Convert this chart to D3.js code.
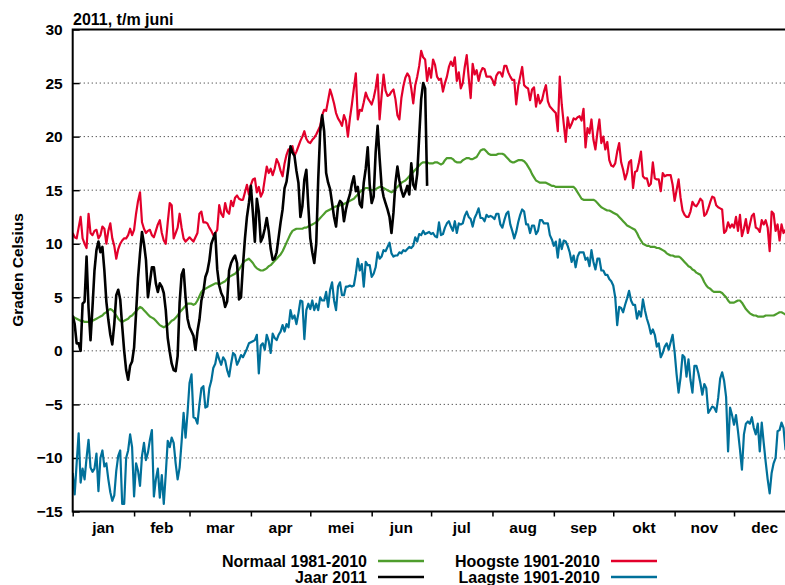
<!DOCTYPE html>
<html>
<head>
<meta charset="utf-8">
<script src="https://cdn.jsdelivr.net/npm/d3@7"></script>
<style>
    body { margin: 0; background: #fff; }
    svg { display: block; font-family: "Liberation Sans", Arial, Helvetica, sans-serif; font-weight: bold; }
</style>
</head>
<body>
<script>
    // Month labels and first day of each month (day index, 1 jan = 0)
    var months = ["jan", "feb", "mar", "apr", "mei", "jun", "jul", "aug", "sep", "okt", "nov", "dec"];
    var monthStarts = [0, 31, 59, 90, 120, 151, 181, 212, 243, 273, 304, 334, 365];
    var yTicks = [-15, -10, -5, 0, 5, 10, 15, 20, 25, 30];

    // Normaal 1981-2010, daily
    var normaal = [
        3.2,3.1,3.0,2.9,2.8,2.8,2.7,2.7,2.7,2.7,2.8,2.9,3.0,3.1,3.2,3.3,3.5,3.6,3.8,3.9,3.8,3.6,3.3,3.0,2.8,2.7,2.8,2.9,3.0,3.2,3.3,
        3.5,3.7,3.9,4.1,4.0,3.8,3.6,3.4,3.2,3.1,3.0,2.8,2.6,2.4,2.3,2.2,2.3,2.4,2.6,2.8,2.9,3.1,3.3,3.6,3.8,4.0,4.2,4.4,
        4.4,4.4,4.3,4.4,4.7,5.1,5.5,5.7,5.8,5.9,6.0,6.1,6.2,6.3,6.3,6.2,6.3,6.4,6.5,6.7,6.9,7.0,7.1,7.2,7.4,7.6,7.9,8.2,8.4,8.5,8.6,
        8.4,8.2,7.9,7.7,7.6,7.5,7.5,7.6,7.7,7.9,8.0,8.2,8.4,8.6,8.8,9.0,9.3,9.7,10.1,10.5,10.9,11.2,11.3,11.4,11.4,11.4,11.4,11.5,11.5,11.6,
        11.7,11.8,11.9,12.0,12.2,12.4,12.6,12.8,13.0,13.1,13.2,13.3,13.4,13.5,13.5,13.6,13.6,13.7,13.8,13.9,14.0,14.1,14.2,14.4,14.6,14.8,15.0,15.1,15.2,15.2,15.1,
        15.0,15.0,15.1,15.2,15.3,15.3,15.2,15.1,15.0,14.9,14.8,14.9,15.1,15.3,15.5,15.7,15.8,15.9,16.1,16.3,16.5,16.7,16.9,17.1,17.3,17.5,17.6,17.6,17.6,17.5,
        17.5,17.5,17.6,17.6,17.5,17.4,17.5,17.8,18.0,18.0,18.0,17.9,17.7,17.6,17.6,17.6,17.8,17.9,18.0,18.0,17.9,17.9,18.0,18.1,18.4,18.7,18.8,18.8,18.6,18.4,18.3,
        18.3,18.3,18.3,18.4,18.4,18.4,18.3,18.1,17.9,17.7,17.6,17.6,17.7,17.8,17.8,17.8,17.7,17.5,17.2,16.9,16.5,16.2,15.9,15.8,15.7,15.7,15.7,15.7,15.6,15.5,15.4,
        15.4,15.3,15.3,15.3,15.3,15.3,15.3,15.3,15.3,15.3,15.3,15.1,14.8,14.5,14.2,14.1,14.1,14.1,14.1,14.1,14.1,14.0,13.8,13.6,13.4,13.3,13.2,13.1,13.1,13.0,
        12.9,12.8,12.7,12.5,12.3,12.1,11.9,11.7,11.6,11.5,11.4,11.3,11.0,10.6,10.3,10.0,9.9,9.8,9.8,9.7,9.7,9.7,9.6,9.6,9.5,9.4,9.3,9.1,9.0,8.9,8.9,
        8.8,8.8,8.8,8.7,8.5,8.3,8.1,7.9,7.8,7.6,7.5,7.3,7.2,7.1,6.8,6.4,6.1,5.9,5.8,5.6,5.5,5.5,5.5,5.5,5.4,5.2,5.0,4.7,4.5,4.5,
        4.5,4.6,4.7,4.7,4.5,4.2,3.9,3.7,3.5,3.4,3.3,3.3,3.2,3.2,3.2,3.2,3.3,3.3,3.3,3.3,3.3,3.4,3.5,3.6,3.6,3.5,3.4,3.3,3.3,3.2,3.2
    ];

    // Hoogste 1901-2010, daily
    var hoogste = [
        11.0,10.6,10.5,11.5,12.5,10.5,10.0,9.6,12.8,11.0,10.8,11.2,11.3,10.5,10.8,11.6,11.4,10.0,11.2,11.9,10.5,9.8,8.6,9.5,10.0,10.3,10.5,10.5,10.8,11.4,10.8,
        11.3,12.8,14.0,14.8,12.0,11.4,11.0,11.2,11.3,10.8,10.6,11.2,11.8,12.2,11.0,10.3,10.0,12.0,13.8,13.6,10.5,11.0,11.5,12.8,11.5,10.5,10.2,10.4,
        10.6,10.4,10.2,10.6,11.0,12.8,13.0,12.0,12.0,11.9,11.5,11.2,10.8,11.0,11.3,13.6,12.8,12.5,13.8,13.0,12.8,14.0,13.5,14.3,14.5,14.2,14.1,14.1,14.8,15.5,14.6,
        15.5,16.0,16.1,14.8,15.3,14.4,14.8,16.0,17.2,16.6,17.0,16.4,17.0,17.9,17.5,16.8,16.3,17.5,18.3,18.8,18.8,19.1,18.2,18.6,19.1,19.6,20.0,20.5,19.8,19.5,
        19.4,19.7,19.9,20.2,20.6,21.0,22.0,22.5,22.4,23.4,24.4,23.8,23.1,22.2,21.7,21.4,21.0,22.0,21.5,20.0,21.7,23.0,24.5,25.9,21.6,22.5,22.4,23.2,24.1,23.6,23.3,
        23.0,23.6,24.5,25.8,21.6,23.8,25.8,24.3,23.8,23.9,24.2,24.4,23.5,22.0,21.6,23.6,24.7,25.5,25.9,25.6,24.5,23.1,24.8,25.6,26.6,28.0,27.4,27.2,25.2,26.4,
        25.5,27.2,26.7,25.6,25.3,25.4,24.2,25.0,25.6,26.5,27.0,26.6,27.4,25.2,26.0,24.5,25.0,26.5,27.6,25.5,23.6,26.8,25.8,26.2,25.2,26.0,26.4,26.3,25.6,25.6,25.6,
        25.3,24.8,25.7,26.0,26.0,25.6,26.6,26.6,26.0,25.6,25.3,25.3,23.0,24.7,25.6,26.5,24.8,24.6,24.5,23.4,24.4,24.6,22.8,23.9,23.1,23.4,24.2,24.8,23.3,22.8,22.6,
        22.4,22.2,20.5,25.6,23.0,21.2,19.5,21.8,20.8,21.2,21.7,21.6,21.8,21.9,21.5,22.6,19.0,20.8,20.3,21.6,19.7,18.8,20.4,21.6,19.4,20.0,18.8,19.5,17.8,17.3,
        17.2,17.5,18.6,19.4,17.6,16.9,16.0,16.6,17.6,17.8,15.2,16.7,16.8,17.6,18.6,16.3,16.1,16.1,15.4,15.6,17.6,16.1,16.0,16.0,14.9,16.6,16.3,16.4,16.4,16.4,15.5,
        14.0,15.0,16.0,14.3,13.1,12.7,12.5,12.5,13.0,13.9,13.6,13.5,13.8,14.2,14.0,12.6,12.8,13.3,13.9,14.4,14.3,13.6,13.4,13.3,13.2,11.0,11.2,12.0,11.5,11.8,
        11.5,12.5,11.2,12.7,10.7,11.4,12.3,11.0,11.8,12.6,12.8,11.5,11.4,11.1,12.2,11.8,12.2,11.5,9.3,13.0,12.8,11.2,11.8,10.3,11.8,11.0,11.3,11.0,11.6,11.2,11.5
    ];

    // Laagste 1901-2010, daily
    var laagste = [
        -11.4,-13.4,-10.5,-7.7,-12.3,-11.0,-12.0,-10.0,-8.3,-10.9,-11.3,-11.0,-9.6,-13.1,-10.0,-9.3,-10.8,-10.5,-12.0,-13.2,-14.0,-13.5,-11.2,-9.8,-9.3,-14.3,-14.3,-10.0,-9.3,-7.8,-9.0,
        -13.6,-10.5,-11.2,-12.6,-9.8,-8.6,-10.2,-9.5,-8.3,-7.4,-13.6,-12.0,-11.0,-13.7,-11.6,-14.3,-11.5,-8.4,-9.0,-8.1,-8.6,-10.5,-12.0,-10.9,-8.5,-5.8,-8.1,-5.8,
        -3.0,-2.2,-6.2,-6.3,-6.8,-5.0,-3.5,-3.3,-5.3,-5.2,-3.5,-2.8,-1.6,-1.2,-0.2,-0.8,-1.3,-0.6,-0.9,-1.8,-2.4,-1.2,-0.2,-0.4,-1.3,-0.9,-0.4,-0.6,-0.2,0.2,0.7,
        0.8,0.9,1.0,1.5,-2.1,0.5,0.7,0.1,1.5,0.9,-0.2,1.6,1.2,1.0,1.5,1.8,2.4,1.8,2.5,2.2,3.8,3.0,3.3,2.5,3.5,4.7,4.6,1.1,3.8,4.4,
        3.9,4.7,3.8,4.4,3.8,5.0,4.7,4.7,5.5,4.1,5.7,6.4,4.7,3.8,6.0,6.4,5.2,5.2,6.0,6.0,6.1,6.0,6.1,7.2,8.6,7.5,8.1,6.0,8.3,8.0,8.0,
        6.9,7.2,7.8,9.2,8.6,8.8,9.4,9.3,9.7,10.1,9.1,8.8,8.9,8.9,9.2,9.1,9.4,9.3,9.5,9.7,9.6,9.8,10.6,10.2,10.9,10.8,11.2,10.9,11.0,11.1,
        10.9,11.0,10.7,10.6,12.0,10.8,10.9,11.5,11.9,12.1,11.6,11.2,12.1,11.0,11.9,11.8,11.9,12.6,13.0,12.5,12.3,11.6,12.4,12.8,13.3,12.4,12.4,12.1,12.7,12.5,12.6,
        12.5,12.3,12.8,12.8,11.8,11.5,12.2,12.8,13.0,11.8,11.2,10.5,11.1,12.0,12.7,13.2,13.0,11.8,11.8,11.0,11.7,11.7,10.9,11.2,12.2,12.2,11.9,11.9,11.9,10.8,10.4,
        9.8,10.2,8.7,10.4,9.5,10.3,10.2,9.8,9.2,8.3,8.9,7.8,8.8,9.2,9.2,9.2,8.5,8.7,7.9,9.4,8.3,7.6,8.6,8.6,7.5,7.5,7.1,7.1,6.7,6.5,
        6.1,5.0,2.4,4.1,4.0,3.6,4.3,4.9,5.6,4.7,4.3,4.3,3.0,3.7,3.2,4.8,3.8,3.0,2.4,1.6,2.0,1.5,0.4,0.7,-0.6,-0.2,0.4,0.7,0.1,0.8,1.5,
        -0.1,-2.2,-3.9,-2.5,-0.4,-0.6,-2.4,-0.8,-2.7,-3.9,-1.4,-1.4,-2.1,-3.0,-4.1,-3.1,-3.5,-5.8,-5.5,-5.2,-5.3,-5.7,-4.4,-2.6,-2.0,-2.8,-4.3,-9.4,-5.3,-6.0,
        -6.9,-6.0,-7.5,-9.2,-11.1,-7.8,-6.8,-6.6,-6.8,-6.2,-7.2,-7.8,-6.8,-9.4,-6.7,-8.6,-10.4,-12.0,-13.3,-11.4,-10.5,-10.0,-7.5,-7.4,-6.7,-7.2,-9.2,-8.0,-8.6,-7.5,-8.2
    ];

    // Jaar 2011, daily up to end of June
    var jaar2011 = [
        3.3,2.5,0.7,0.7,0.0,4.4,4.6,8.8,4.0,1.0,4.1,7.5,9.4,10.2,9.2,9.7,7.5,4.6,2.9,1.5,0.6,2.5,5.2,5.7,4.8,2.3,0.0,-1.8,-2.7,-1.4,-1.0,
        0.3,3.5,6.8,9.1,11.1,10.0,8.5,5.0,6.4,7.8,7.8,6.3,5.5,6.3,6.0,5.4,3.8,1.2,-0.1,-1.2,-1.8,-1.9,-0.5,4.5,7.1,7.6,5.0,3.0,
        2.2,1.8,1.4,0.1,1.8,2.9,4.7,5.5,6.9,7.4,8.4,10.0,10.5,11.0,7.6,6.1,5.4,5.0,4.1,4.6,7.5,8.2,8.6,8.9,8.2,4.8,5.0,8.0,10.5,12.5,13.8,
        15.4,12.9,10.2,14.2,13.0,10.2,10.6,11.4,12.4,11.2,9.5,8.5,8.6,9.2,10.6,12.0,13.2,15.2,15.8,17.2,19.1,18.5,18.2,16.8,15.7,12.5,13.5,16.0,16.9,13.5,
        10.5,9.2,8.2,10.0,16.0,20.5,22.0,20.5,16.6,15.7,15.1,13.8,12.5,11.6,13.5,14.0,13.8,12.1,13.2,14.0,14.6,15.6,16.3,14.9,15.3,13.7,13.4,15.7,17.0,19.0,15.5,
        13.8,14.4,18.5,21.0,18.0,15.4,14.4,13.8,13.2,12.5,11.0,12.9,15.7,17.2,15.9,15.0,14.4,14.8,15.4,14.6,17.5,15.5,15.1,16.5,20.0,23.5,25.0,24.5,15.4
    ];

    var legendItems = [
        {label: "Normaal 1981-2010", color: "#4e9d2d", col: 0, row: 0},
        {label: "Jaar 2011", color: "#000000", col: 0, row: 1},
        {label: "Hoogste 1901-2010", color: "#e3002b", col: 1, row: 0},
        {label: "Laagste 1901-2010", color: "#00709a", col: 1, row: 1}
    ];

    var width = 785, height = 585;
    var plot = {left: 72.7, top: 29.5, bottom: 511.5, dayWidth: 1.98};

    var x = d3.scaleLinear()
        .domain([0, 365])
        .range([plot.left, plot.left + 365 * plot.dayWidth]);
    var y = d3.scaleLinear()
        .domain([-15, 30])
        .range([plot.bottom, plot.top]);

    var svg = d3.select("body").append("svg")
        .attr("width", width)
        .attr("height", height);

    svg.append("clipPath").attr("id", "plotclip")
        .append("rect")
        .attr("x", plot.left)
        .attr("y", plot.top)
        .attr("width", width - plot.left)
        .attr("height", plot.bottom - plot.top);

    // Dotted grid lines
    svg.append("g")
        .selectAll("line")
        .data(yTicks.filter(function (d) { return d > -15 && d < 30; }))
        .enter().append("line")
        .attr("x1", plot.left + 7)
        .attr("x2", width)
        .attr("y1", function (d) { return y(d); })
        .attr("y2", function (d) { return y(d); })
        .style("stroke", "#444")
        .style("stroke-width", 1)
        .style("stroke-dasharray", "1.2,2.8");

    // Y axis with inward ticks
    var yAxis = svg.append("g")
        .attr("transform", "translate(" + plot.left + ",0)")
        .call(d3.axisLeft(y).tickValues(yTicks).tickSize(-7).tickPadding(10));
    yAxis.select(".domain").remove();
    yAxis.selectAll(".tick line").style("stroke", "#000").style("stroke-width", 1.5);
    yAxis.selectAll("text")
        .style("font-family", "inherit")
        .style("font-size", "15.5px")
        .style("font-weight", "bold")
        .style("fill", "#000");

    // X axis: month boundary ticks and month labels in between
    var xAxis = svg.append("g")
        .attr("transform", "translate(0," + plot.bottom + ")")
        .call(d3.axisBottom(x).tickValues(monthStarts).tickSize(5).tickFormat(""));
    xAxis.select(".domain").remove();
    xAxis.selectAll(".tick line").style("stroke", "#000").style("stroke-width", 1.5);

    svg.append("g")
        .selectAll("text")
        .data(months)
        .enter().append("text")
        .attr("x", function (d, i) { return x((monthStarts[i] + monthStarts[i + 1]) / 2); })
        .attr("y", 532.5)
        .attr("text-anchor", "middle")
        .style("font-size", "15.5px")
        .text(function (d) { return d; });

    // Series
    var line = d3.line()
        .x(function (d, i) { return x(i); })
        .y(function (d) { return y(d); });

    var lines = svg.append("g").attr("clip-path", "url(#plotclip)");
    [[hoogste, "#e3002b", 2.2], [laagste, "#00709a", 2.2], [normaal, "#4e9d2d", 2.2], [jaar2011, "#000000", 2.6]]
        .forEach(function (s) {
            lines.append("path")
                .datum(s[0])
                .attr("d", line)
                .style("fill", "none")
                .style("stroke", s[1])
                .style("stroke-width", s[2])
                .style("stroke-linejoin", "round");
        });

    // Frame
    svg.append("path")
        .attr("d", "M" + width + "," + plot.top + "H" + plot.left + "V" + plot.bottom + "H" + width)
        .style("fill", "none")
        .style("stroke", "#000")
        .style("stroke-width", 2);

    // Titles
    svg.append("text")
        .attr("x", 73)
        .attr("y", 25)
        .style("font-size", "16px")
        .text("2011, t/m juni");

    svg.append("text")
        .attr("transform", "translate(23,270) rotate(-90)")
        .attr("text-anchor", "middle")
        .style("font-size", "15.5px")
        .text("Graden Celsius");

    // Legend
    var legend = svg.append("g").selectAll("g")
        .data(legendItems)
        .enter().append("g")
        .attr("transform", function (d) {
            return "translate(" + (d.col ? 600 : 367) + "," + (d.row ? 577 : 561) + ")";
        });
    legend.append("text")
        .attr("x", 0)
        .attr("y", 5.5)
        .attr("text-anchor", "end")
        .style("font-size", "16px")
        .text(function (d) { return d.label; });
    legend.append("line")
        .attr("x1", 11)
        .attr("x2", 57)
        .style("stroke", function (d) { return d.color; })
        .style("stroke-width", 2.6);
</script>
</body>
</html>
